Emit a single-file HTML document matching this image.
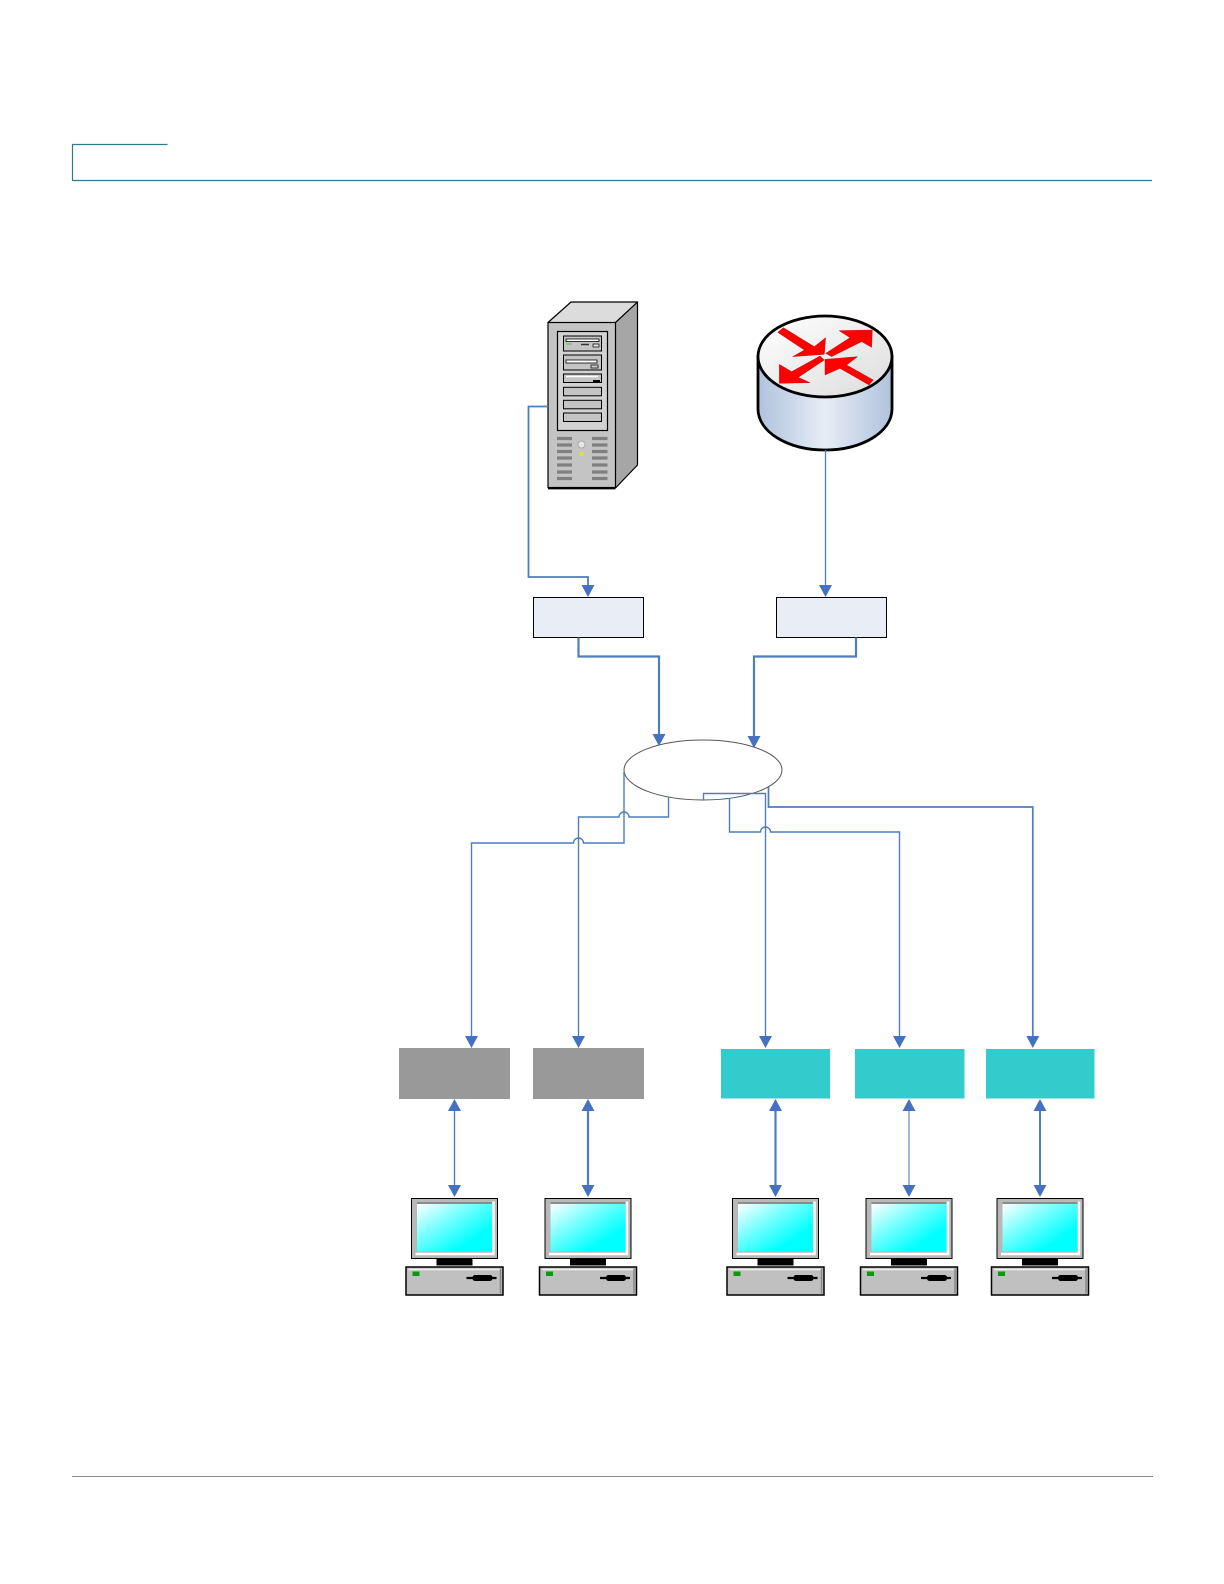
<!DOCTYPE html>
<html><head><meta charset="utf-8"><title>Network diagram</title>
<style>html,body{margin:0;padding:0;background:#fff}svg{display:block}</style></head>
<body>
<svg width="1224" height="1584" viewBox="0 0 1224 1584" xmlns="http://www.w3.org/2000/svg">
<defs>
<linearGradient id="scr" x1="0" y1="0" x2="1" y2="1"><stop offset="0" stop-color="#fff"/><stop offset=".4" stop-color="#70ffff"/><stop offset=".75" stop-color="#00ffff"/><stop offset="1" stop-color="#00ffff"/></linearGradient>
<linearGradient id="cyl" x1="0" y1="0" x2="1" y2="0"><stop offset="0" stop-color="#b0c2dc"/><stop offset=".5" stop-color="#e6edf6"/><stop offset="1" stop-color="#b0c2dc"/></linearGradient>
<linearGradient id="top" x1="0" y1="0" x2="1" y2="1"><stop offset="0" stop-color="#fff"/><stop offset="1" stop-color="#dcdcdc"/></linearGradient>
<g id="pc">
<rect x="-43" y="0" width="86" height="60" fill="#b8b8b8" stroke="#000" stroke-width="1"/>
<path d="M-39 55.500H39V3" fill="none" stroke="#fff" stroke-width="2.500"/>
<rect x="-37.500" y="5" width="75" height="48" fill="url(#scr)"/>
<path d="M-37.500 4.500H37.500" stroke="#8c8c8c" stroke-width="2"/>
<rect x="-18" y="60" width="36" height="7" fill="#000"/>
<rect x="-48.500" y="68.500" width="97" height="28" fill="#c0c0c0" stroke="#000" stroke-width="1.500"/>
<path d="M-46 71H46" stroke="#eee" stroke-width="1.500"/>
<path d="M46 70V95" stroke="#888" stroke-width="1.500"/>
<rect x="-42" y="73" width="7" height="4.500" fill="#0a9a0a"/>
<path d="M12 79.500H42" stroke="#000" stroke-width="2.200"/>
<rect x="18" y="76.500" width="20" height="6" rx="2.500" fill="#000"/>
</g>
<g id="bay"><rect x="563.500" width="38" height="8.500" fill="#c4c4c4" stroke="#000" stroke-width="1"/></g>
</defs>

<!-- page header / footer -->
<path d="M167.500 144.500H72.500V180.500H1152" fill="none" stroke="#2f7a8c" stroke-width="1.200"/>
<path d="M72 1476.500H1153" stroke="#8a8a8a" stroke-width="1"/>

<!-- server -->
<polygon points="615.500,322.500 637.500,302 637.500,465 615.500,488" fill="#a6a6a6"/>
<polygon points="548,322.500 571,302 637.500,302 615.500,322.500" fill="#dcdcdc"/>
<path d="M548 322.500L571 302H637.500V465L615.500 488M615.500 322.500L637.500 302" fill="none" stroke="#000" stroke-width="1.200"/>
<rect x="548" y="322.500" width="67.500" height="165" fill="#c4c4c4" stroke="#000" stroke-width="1.200"/>
<path d="M548 488.500H615.500" fill="none" stroke="#000" stroke-width="1.800"/>
<rect x="557.500" y="331.500" width="50" height="99" fill="#d2d2d2" stroke="#000" stroke-width="1.200"/>
<rect x="563.500" y="336" width="38" height="15" fill="#c4c4c4" stroke="#000"/>
<rect x="566" y="339" width="33" height="2.500" fill="#fff" stroke="#000" stroke-width=".8"/>
<rect x="593" y="344" width="6" height="3" fill="#ddd" stroke="#000" stroke-width=".7"/>
<path d="M566 344H572" stroke="#5fbf5f" stroke-width="1"/>
<path d="M581 344.500H589" stroke="#333" stroke-width="1.500"/>
<rect x="563.500" y="355" width="38" height="15" fill="#c4c4c4" stroke="#000"/>
<rect x="566" y="360" width="31" height="3" fill="#fff" stroke="#000" stroke-width=".8"/>
<rect x="591" y="365" width="7" height="3" fill="#ccc" stroke="#000" stroke-width=".7"/>
<rect x="563.500" y="374" width="38" height="8.500" fill="#c4c4c4" stroke="#000"/>
<rect x="593" y="380" width="7" height="2.500" fill="#000"/>
<path d="M566 376.500H598" stroke="#fff" stroke-width="1.500"/>
<use href="#bay" y="387.300"/><use href="#bay" y="400.300"/><use href="#bay" y="413"/>
<g stroke="#808080" stroke-width="3.200">
<path d="M557 438.500H572M592 438.500H607.500M557 445H572M592 445H607.500M557 451.500H572M592 451.500H607.500M557 458H572M592 458H607.500M557 465H572M592 465H607.500M557 472H572M592 472H607.500M557 478.500H572M592 478.500H607.500"/>
</g>
<circle cx="581.500" cy="444.500" r="3.500" fill="#e8e8e8" stroke="#aaa" stroke-width="1"/>
<rect x="579.500" y="452" width="4" height="4" fill="#dde040"/>

<!-- router -->
<path d="M758 356.500V409C758 432 788 450 825 450S892 432 892 409V356.500Z" fill="url(#cyl)" stroke="#000" stroke-width="2.800"/>
<ellipse cx="825" cy="356.500" rx="67" ry="40.500" fill="url(#top)" stroke="#000" stroke-width="2.800"/>
<g transform="translate(735 300) scale(.3333)" fill="#ff0000" stroke="#9a0000" stroke-width="1">
<polygon points="128,97 145,83 238,140 272,113 268,163 173,170 208,150"/>
<polygon points="272,160 345,113 312,92 412,90 410,142 380,125 290,170"/>
<polygon points="133,193 170,215 255,168 268,180 190,232 225,248 133,250"/>
<polygon points="270,225 270,178 368,170 335,195 415,240 402,255 315,205"/>
</g>

<!-- top boxes -->
<rect x="533.500" y="597.500" width="110" height="40" fill="#e8edf6" stroke="#000" stroke-width="1"/>
<rect x="776.500" y="597.500" width="110" height="40" fill="#e8edf6" stroke="#000" stroke-width="1"/>

<!-- ellipse -->
<ellipse cx="703" cy="770" rx="79" ry="30" fill="#fff" stroke="#555" stroke-width="1"/>

<!-- lower boxes -->
<rect x="399" y="1048" width="111" height="51" fill="#999"/>
<rect x="533" y="1048" width="111" height="51" fill="#999"/>
<rect x="721" y="1049" width="109" height="49.500" fill="#33cccc"/>
<rect x="855" y="1049" width="109.500" height="49.500" fill="#33cccc"/>
<rect x="986" y="1049" width="108.500" height="49.500" fill="#33cccc"/>

<!-- connectors -->
<g fill="none" stroke="#4f7ebc">
<path d="M548 406.500H528.500V577H588V586" stroke-width="1.800"/>
<path d="M825.500 450V586" stroke-width="1.300"/>
<path d="M578.500 637.500V656.500H659V735" stroke-width="2.200"/>
<path d="M856 637.500V656.500H754V737" stroke-width="2.200"/>
<path d="M624 772V843H583.500A5 5 0 0 0 573.500 843H471.500V1037" stroke-width="1.400"/>
<path d="M668.500 797V817H629A5 5 0 0 0 619 817H578.500V1037" stroke-width="1.400"/>
<path d="M703.500 800V793.500H765.500V1037" stroke-width="1.400"/>
<path d="M729.500 798V832H760.500A5 5 0 0 1 770.500 832H899.500V1037" stroke-width="1.400"/>
<path d="M768.500 787V807H1032.800V1037" stroke-width="1.700"/>
<path d="M454.500 1109V1186" stroke-width="1.400"/>
<path d="M588 1109V1186" stroke-width="2.200"/>
<path d="M775.500 1109V1186" stroke-width="2.200"/>
<path d="M909 1109V1186" stroke-width="1.100"/>
<path d="M1040 1109V1186" stroke-width="2"/>
</g>

<!-- arrowheads -->
<g fill="#4472c0">
<polygon points="581.500,585 594.500,585 588,597"/>
<polygon points="819,585 832,585 825.500,597"/>
<polygon points="652.500,734 665.500,734 659,746"/>
<polygon points="747.500,736 760.500,736 754,748"/>
<polygon points="465,1036 478,1036 471.500,1048"/>
<polygon points="572,1036 585,1036 578.500,1048"/>
<polygon points="759,1036 772,1036 765.500,1048"/>
<polygon points="893,1036 906,1036 899.500,1048"/>
<polygon points="1026.300,1036 1039.300,1036 1032.800,1048"/>
<polygon points="448,1111 461,1111 454.500,1099"/><polygon points="448,1185 461,1185 454.500,1197"/>
<polygon points="581.500,1111 594.500,1111 588,1099"/><polygon points="581.500,1185 594.500,1185 588,1197"/>
<polygon points="769,1111 782,1111 775.500,1099"/><polygon points="769,1185 782,1185 775.500,1197"/>
<polygon points="902.500,1111 915.500,1111 909,1099"/><polygon points="902.500,1185 915.500,1185 909,1197"/>
<polygon points="1033.500,1111 1046.500,1111 1040,1099"/><polygon points="1033.500,1185 1046.500,1185 1040,1197"/>
</g>

<!-- PCs -->
<use href="#pc" transform="translate(454.500 1198.500)"/>
<use href="#pc" transform="translate(588 1198.500)"/>
<use href="#pc" transform="translate(775.500 1198.500)"/>
<use href="#pc" transform="translate(909 1198.500)"/>
<use href="#pc" transform="translate(1040 1198.500)"/>
</svg>
</body></html>
